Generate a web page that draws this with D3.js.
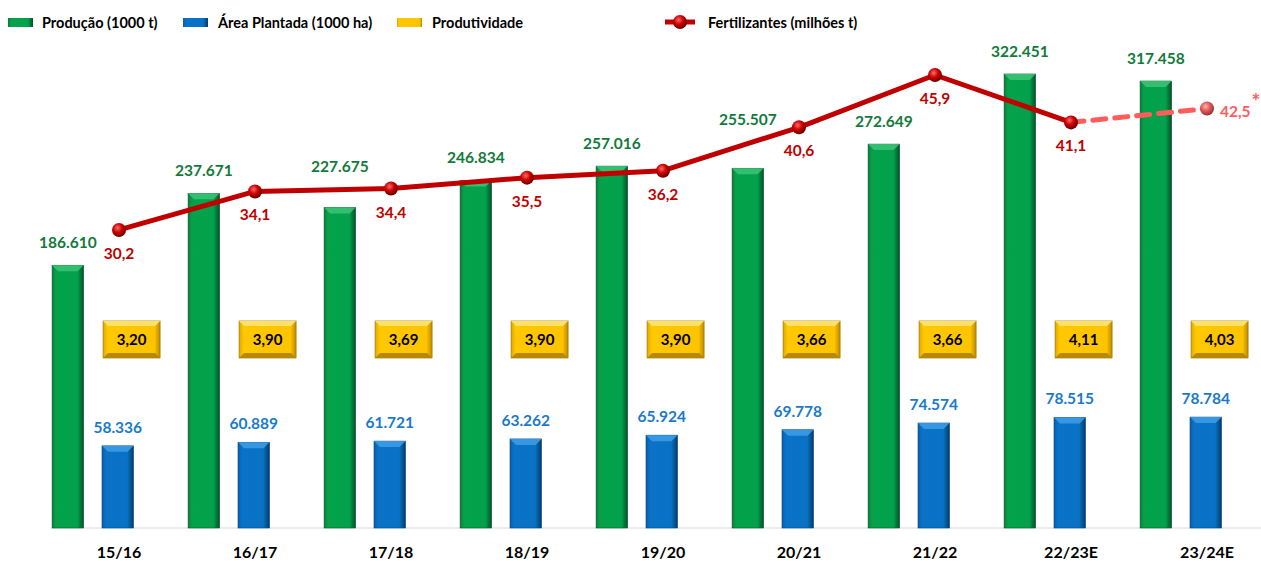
<!DOCTYPE html>
<html>
<head>
<meta charset="utf-8">
<script src="https://cdn.jsdelivr.net/npm/d3@7"></script>
<style>
  body { margin: 0; background: #fff; }
  svg { display: block; font-family: Lato, "Open Sans", sans-serif; font-weight: bold; }
</style>
</head>
<body>
<svg id="chart"></svg>
<script>
// chart values
var seasons = ["15/16", "16/17", "17/18", "18/19", "19/20", "20/21", "21/22", "22/23E", "23/24E"];
var producao = [186610, 237671, 227675, 246834, 257016, 255507, 272649, 322451, 317458];
var area = [58336, 60889, 61721, 63262, 65924, 69778, 74574, 78515, 78784];
var produtividade = [3.20, 3.90, 3.69, 3.90, 3.90, 3.66, 3.66, 4.11, 4.03];
var fertilizantes = [30.2, 34.1, 34.4, 35.5, 36.2, 40.6, 45.9, 41.1, 42.5];
var legendNames = ["Produção (1000 t)", "Área Plantada (1000 ha)", "Produtividade", "Fertilizantes (milhões t)"];

var W = 1261, H = 561;
var baseY = 528;

var svg = d3.select("#chart").attr("width", W).attr("height", H);
var defs = svg.append("defs");

// bevel-ish gradients
function hGrad(id, stops) {
  var g = defs.append("linearGradient").attr("id", id)
    .attr("x1", "0").attr("x2", "1").attr("y1", "0").attr("y2", "0");
  stops.forEach(function(s) { g.append("stop").attr("offset", s[0]).attr("stop-color", s[1]); });
}
hGrad("gGreen", [[0, "#0b7a3a"], [0.12, "#05a24c"], [0.8, "#03a14b"], [1, "#04502a"]]);
hGrad("gBlue", [[0, "#0a5ea8"], [0.12, "#0a72c8"], [0.8, "#0872c4"], [1, "#083a66"]]);
hGrad("gGold", [[0, "#e0a800"], [0.08, "#ffc800"], [0.9, "#ffc400"], [1, "#b88a00"]]);

function ball(id, light, mid, dark) {
  var g = defs.append("radialGradient").attr("id", id)
    .attr("cx", "0.4").attr("cy", "0.35").attr("r", "0.65");
  g.append("stop").attr("offset", 0).attr("stop-color", light);
  g.append("stop").attr("offset", 0.5).attr("stop-color", mid);
  g.append("stop").attr("offset", 1).attr("stop-color", dark);
}
ball("ballRed", "#ff6a6a", "#cc0000", "#6a0000");
ball("ballPink", "#ffb0b0", "#e05a5a", "#9a3030");

// scales
var x = d3.scaleBand().domain(seasons).range([51, 1275]).padding(0);
var bw = x.bandwidth();
var y = d3.scaleLinear().domain([0, 375000]).range([baseY, 0]);
var y2 = d3.scaleLinear().domain([0, 53.5]).range([baseY, 0]);

var greenX = function(d, i) { return x(seasons[i]) + bw * 0.008; };
var blueX = function(d, i) { return x(seasons[i]) + bw * 0.375; };
var barW = bw * 0.232;

// axis baseline
svg.append("line")
  .attr("x1", x.range()[0]).attr("x2", x.range()[1])
  .attr("y1", baseY).attr("y2", baseY)
  .attr("stroke", "#d9d9d9").attr("stroke-width", 1.2);

// bar with bevel overlay
function drawBars(values, xf, grad, topCol, edgeCol) {
  var g = svg.append("g");
  var bars = g.selectAll("g").data(values).enter().append("g");
  bars.append("rect")
    .attr("x", xf).attr("y", function(d) { return y(d); })
    .attr("width", barW).attr("height", function(d) { return baseY - y(d); })
    .attr("fill", "url(#" + grad + ")")
    .attr("stroke", edgeCol).attr("stroke-width", 0.6);
  bars.append("path")
    .attr("d", function(d, i) {
      var x0 = xf(d, i), t = y(d), b = 6;
      return "M" + x0 + "," + t + "L" + (x0 + barW) + "," + t +
        "L" + (x0 + barW - b) + "," + (t + b) + "L" + (x0 + b) + "," + (t + b) + "Z";
    })
    .attr("fill", topCol).attr("opacity", 0.85);
}
drawBars(producao, greenX, "gGreen", "#3dc477", "#0a5a2e");
drawBars(area, blueX, "gBlue", "#3f9de6", "#0a4a80");

// production labels (some lifted clear of the line)
var prodLift = { "17/18": 18, "20/21": 26 };
svg.append("g").selectAll("text").data(producao).enter().append("text")
  .attr("x", function(d, i) { return greenX(d, i) + barW / 2; })
  .attr("y", function(d, i) { return y(d) - 17 - (prodLift[seasons[i]] || 0); })
  .attr("text-anchor", "middle")
  .attr("fill", "#127a3c").attr("font-size", 15.5)
  .text(function(d) { return d3.format(",")(d).replace(/,/g, "."); });

// area labels
svg.append("g").selectAll("text").data(area).enter().append("text")
  .attr("x", function(d, i) { return blueX(d, i) + barW / 2; })
  .attr("y", function(d) { return y(d) - 13; })
  .attr("text-anchor", "middle")
  .attr("fill", "#1a7acb").attr("font-size", 15.5)
  .text(function(d) { return d3.format(",")(d).replace(/,/g, "."); });

// productivity boxes
var boxW = 57, boxH = 37, boxTop = 321;
var pb = svg.append("g").selectAll("g").data(produtividade).enter().append("g")
  .attr("transform", function(d, i) { return "translate(" + (x(seasons[i]) + bw * 0.383) + "," + boxTop + ")"; });
pb.append("rect").attr("width", boxW).attr("height", boxH)
  .attr("fill", "url(#gGold)").attr("stroke", "#a07800").attr("stroke-width", 0.7);
pb.append("path")
  .attr("d", "M0,0L" + boxW + ",0L" + (boxW - 5) + ",5L5,5Z").attr("fill", "#ffe066");
pb.append("path")
  .attr("d", "M0," + boxH + "L" + boxW + "," + boxH + "L" + (boxW - 5) + "," + (boxH - 5) + "L5," + (boxH - 5) + "Z")
  .attr("fill", "#b88800");
pb.append("text").attr("x", boxW / 2).attr("y", boxH / 2 + 5.5)
  .attr("text-anchor", "middle").attr("font-size", 15).attr("fill", "#000")
  .text(function(d) { return d3.format(".2f")(d).replace(".", ","); });

// fertilizer line
var pts = fertilizantes.map(function(v, i) { return [x(seasons[i]) + bw / 2, y2(v)]; });
var line = d3.line();
var n = pts.length;
svg.append("path").attr("d", line(pts.slice(0, n - 1)))
  .attr("fill", "none").attr("stroke", "#c00000").attr("stroke-width", 5)
  .attr("stroke-linejoin", "round");
svg.append("path").attr("d", line(pts.slice(n - 2)))
  .attr("fill", "none").attr("stroke", "#ff5c5c").attr("stroke-width", 5)
  .attr("stroke-dasharray", "13,9").attr("stroke-linecap", "round");

svg.append("g").selectAll("circle").data(pts).enter().append("circle")
  .attr("cx", function(d) { return d[0]; }).attr("cy", function(d) { return d[1]; })
  .attr("r", 7)
  .attr("fill", function(d, i) { return i === n - 1 ? "url(#ballPink)" : "url(#ballRed)"; });

svg.append("g").selectAll("text").data(fertilizantes.slice(0, n - 1)).enter().append("text")
  .attr("x", function(d, i) { return pts[i][0]; })
  .attr("y", function(d, i) { return pts[i][1] + 29; })
  .attr("text-anchor", "middle").attr("fill", "#c00000").attr("font-size", 15.5)
  .text(function(d) { return d3.format(".1f")(d).replace(".", ","); });

var lastLbl = svg.append("text")
  .attr("x", pts[n - 1][0] + 13).attr("y", pts[n - 1][1] + 8)
  .attr("fill", "#ff5c5c").attr("font-size", 15.5);
lastLbl.append("tspan").text(d3.format(".1f")(fertilizantes[n - 1]).replace(".", ","));
lastLbl.append("tspan").attr("dx", 1).attr("dy", -8).attr("font-size", 21).text("*");

// category axis labels
svg.append("g").selectAll("text").data(seasons).enter().append("text")
  .attr("x", function(d) { return x(d) + bw / 2; })
  .attr("y", 558)
  .attr("text-anchor", "middle").attr("font-size", 16).attr("fill", "#000")
  .text(function(d) { return d; });

// legend
var legendPos = [8, 183, 397, 665];
var legendText = [42, 218, 432, 708];
var swatchFill = ["url(#gGreen)", "url(#gBlue)", "url(#gGold)"];
var lg = svg.append("g");
legendNames.forEach(function(name, i) {
  if (i < 3) {
    lg.append("rect").attr("x", legendPos[i]).attr("y", 18).attr("width", 25).attr("height", 9)
      .attr("fill", swatchFill[i]);
  } else {
    lg.append("line").attr("x1", legendPos[i]).attr("x2", legendPos[i] + 30)
      .attr("y1", 22).attr("y2", 22).attr("stroke", "#c00000").attr("stroke-width", 5);
    lg.append("circle").attr("cx", legendPos[i] + 15).attr("cy", 22).attr("r", 7)
      .attr("fill", "url(#ballRed)");
  }
  lg.append("text").attr("x", legendText[i]).attr("y", 28)
    .attr("font-size", 14.5).attr("fill", "#000").text(name);
});
</script>
</body>
</html>
